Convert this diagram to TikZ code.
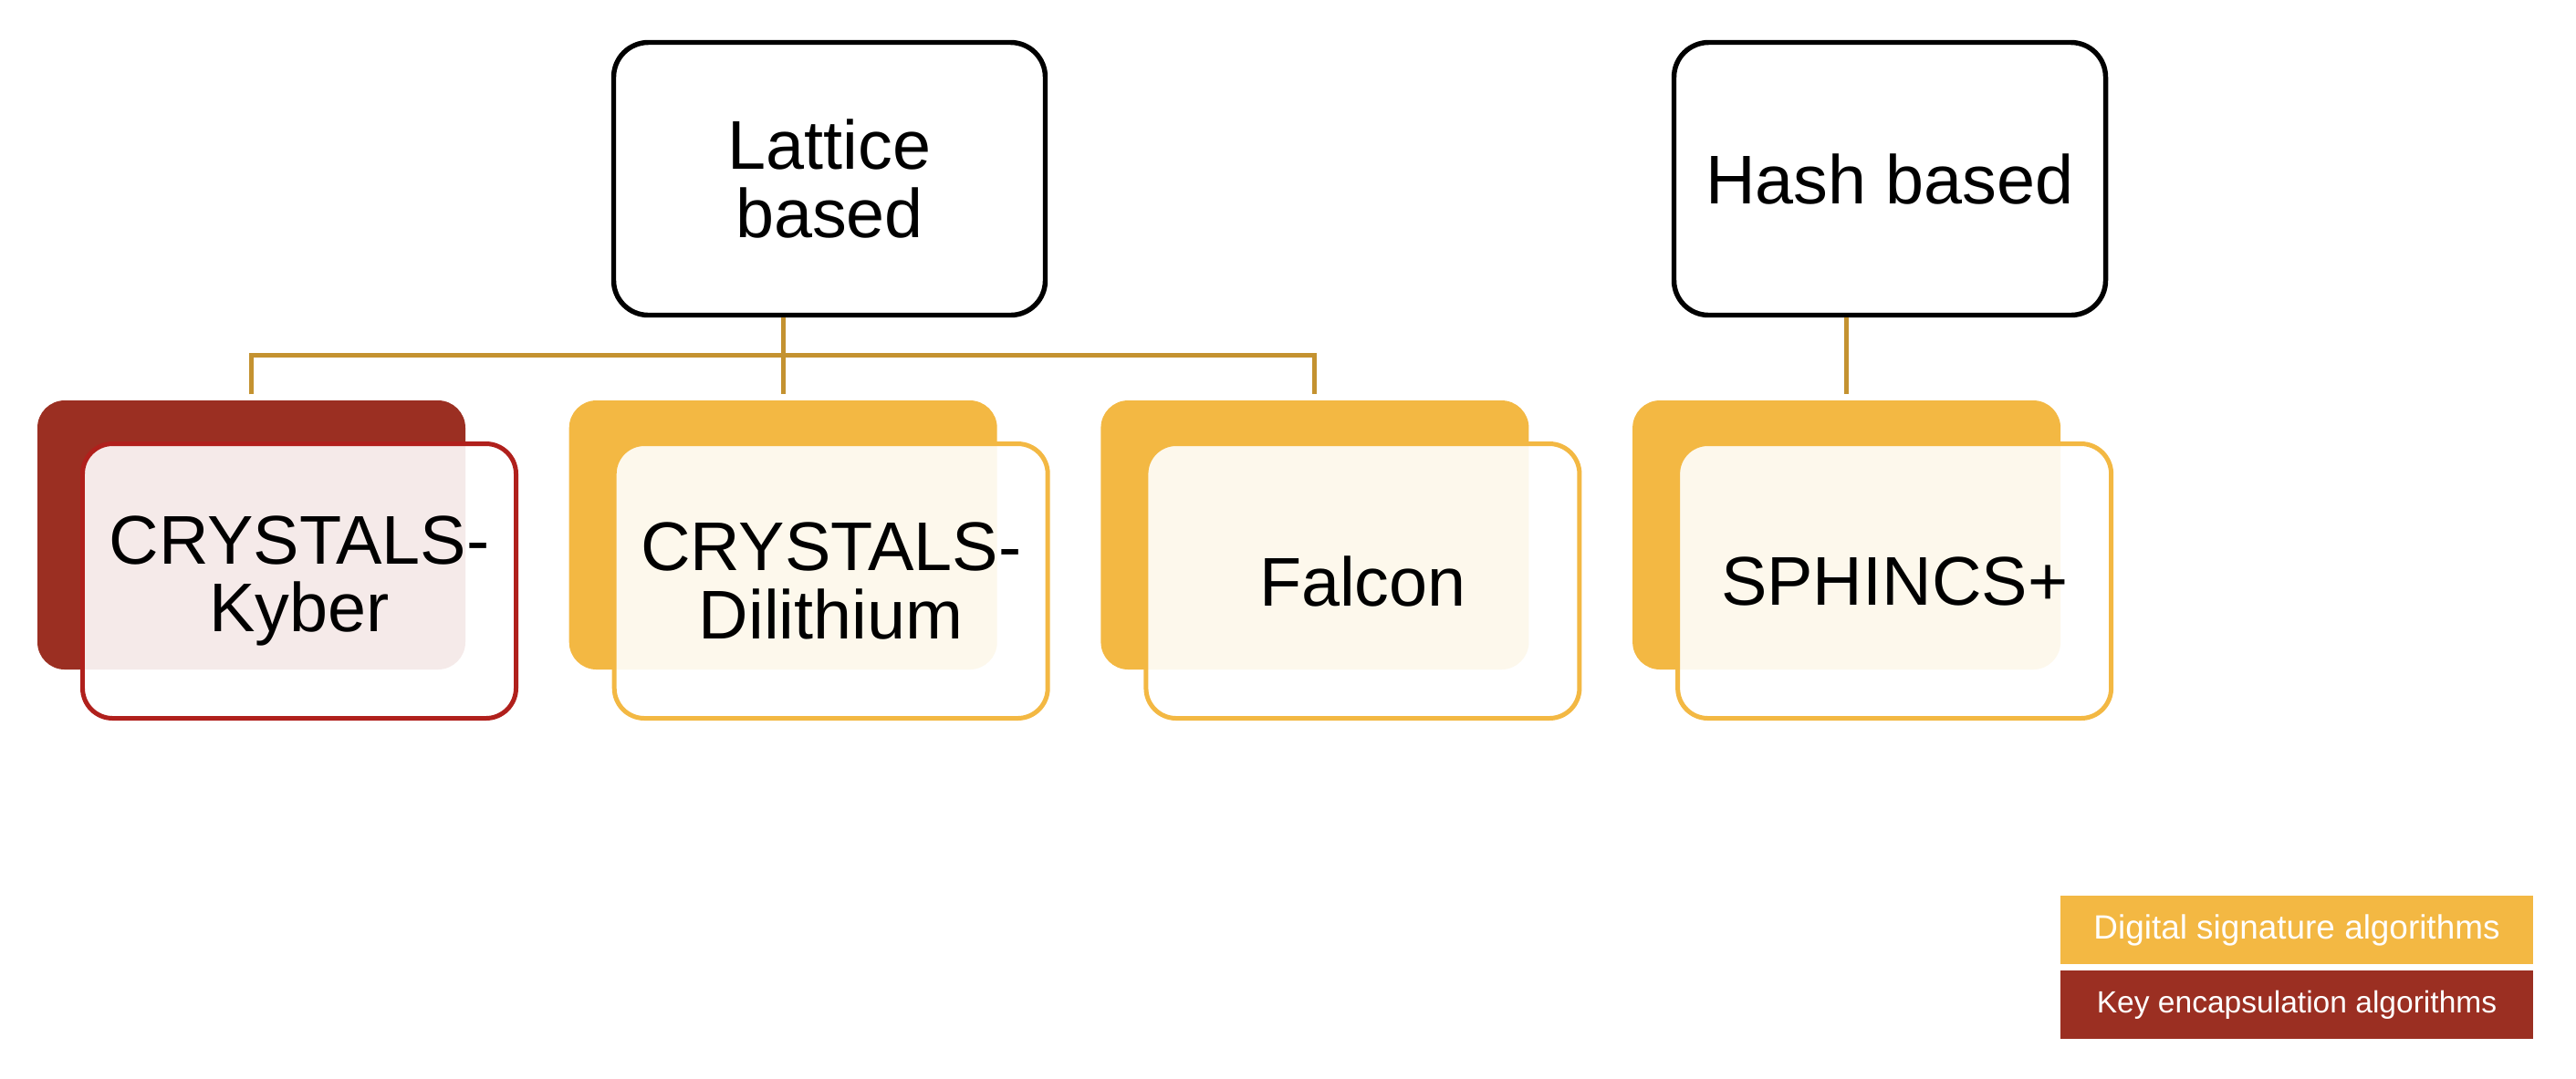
\documentclass[tikz,border=0pt]{standalone}
\usepackage{fontspec}
\setmainfont{Liberation Sans}
\usetikzlibrary{positioning}
\definecolor{kemred}{RGB}{155,47,34}
\definecolor{kemedge}{RGB}{176,32,28}
\definecolor{sigyellow}{RGB}{243,184,67}
\definecolor{linkgold}{RGB}{196,146,48}
\begin{document}
\begin{tikzpicture}[
    family/.style={draw=black, line width=1.55pt, rounded corners=0.38cm,
      fill=white, minimum width=4.73cm, minimum height=2.99cm,
      align=center, font=\fontsize{21.5}{21.2}\selectfont},
    back/.style={fill=#1, rounded corners=0.3cm, inner sep=0pt,
      minimum width=4.69cm, minimum height=2.95cm},
    front/.style={draw=#1, line width=1.42pt, fill=white,
      fill opacity=0.9, text opacity=1, rounded corners=0.33cm,
      minimum width=4.75cm, minimum height=3.01cm,
      align=center, font=\fontsize{21.5}{21.2}\selectfont},
    link/.style={draw=linkgold, line width=1.42pt, shorten >=0.06cm},
    legend/.style={fill=#1, text=white, inner sep=0pt,
      minimum width=5.18cm, minimum height=0.745cm,
      font=\fontsize{10.5}{12}\selectfont}
  ]
  \useasboundingbox (0,0) rectangle (28.23,-11.82);
  % families
  \node[family] (lattice) at (9.09,-1.96) {Lattice\\based};
  \node[family] (hash) at (20.71,-1.96) {Hash based};
  % cards, back layer
  \node[back=kemred] (kyberback) at (2.755,-5.865) {};
  \node[back=sigyellow, right=1.123cm of kyberback] (dilback) {};
  \node[back=sigyellow, right=1.123cm of dilback] (falconback) {};
  \node[back=sigyellow, right=1.123cm of falconback] (sphback) {};
  % cards, front layer
  \node[front=kemedge] (kyber) at ([shift={(0.525,-0.505)}]kyberback)
    {CRYSTALS-\\Kyber};
  \node[front=sigyellow] (dilithium) at ([shift={(0.525,-0.505)}]dilback)
    {CRYSTALS-\\Dilithium};
  \node[front=sigyellow] (falcon) at ([shift={(0.525,-0.505)}]falconback)
    {Falcon};
  \node[front=sigyellow] (sphincs) at ([shift={(0.525,-0.505)}]sphback)
    {SPHINCS+};
  % tree
  \draw[link, shorten <=0.06cm] (kyberback.north) -- ++(0,0.49)
    -| (falconback.north);
  \draw[link] (lattice.south -| dilback.north) -- (dilback.north);
  \draw[link] (hash.south -| sphback.north) -- (sphback.north);
  % legend
  \node[legend=sigyellow] (sigkey) at (25.17,-10.195)
    {Digital signature algorithms};
  \node[legend=kemred, font=\fontsize{9.55}{11}\selectfont,
    below=0.06cm of sigkey] (kemkey) {Key encapsulation algorithms};
\end{tikzpicture}
\end{document}
